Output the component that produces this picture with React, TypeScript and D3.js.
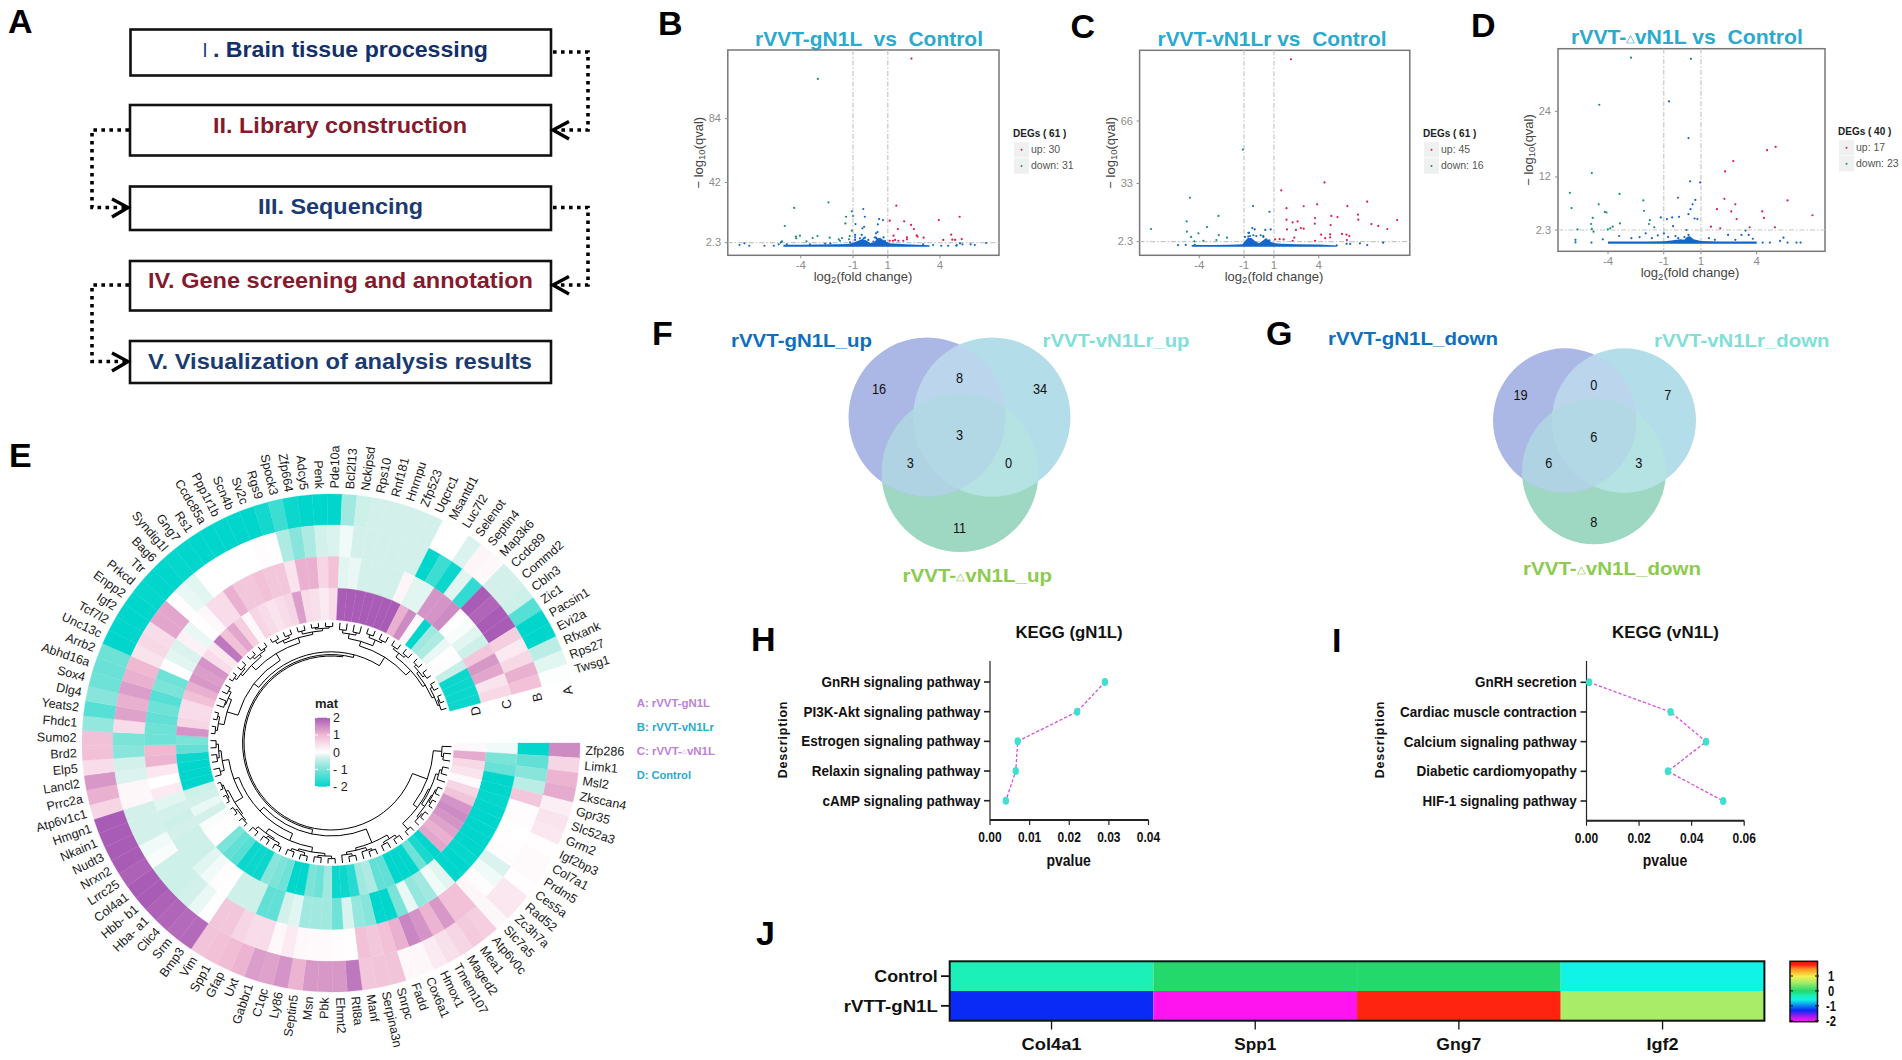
import React from "react";
import * as d3 from "d3";

// ---------- Panel A ----------
const flowLabels = ["Brain tissue processing", "II. Library construction", "III. Sequencing", "IV. Gene screening and annotation", "V. Visualization of analysis results"];

// ---------- Panels B, C, D (log2 fold change, -log10 q) ----------
const bUp: number[][] = [[2.36,123.6],[1.49,26.7],[1.11,16.8],[1.94,16.4],[2.34,14],[1.58,11.3],[2.5,11.3],[2.66,7.1],[2.1,5.8],[2.1,4.5],[3.06,5.6],[3.93,17.2],[5.13,19.4],[4.64,7.6],[4.19,4.1],[4.71,4.3],[4.87,4.1],[5.25,4.7],[1.11,3.6],[1.3,3.6],[1.42,4.1],[1.61,3.6],[1.33,6.9],[1.89,3.6],[2.71,6.3]];
const bDown: number[][] = [[-3.02,110.2],[-2.41,28.9],[-4.38,25.2],[-4.92,13.3],[-4.28,6.3],[-4.05,6.9],[-4.26,5.2],[-3.32,5.4],[-3.04,6.7],[-2.34,5.6],[-1.82,4.5],[-1.63,5.4],[-1.4,19.4],[-1.07,23],[-1,19.9],[-1.44,15],[-1.07,10.2],[-1.19,6.7],[-1.23,4.5],[-1.75,3.6],[-5.08,3.2],[-3.67,3.2]];
const bOther: number[][] = [[-.41,24.5],[-.32,19.4],[-.86,14.6],[.5,17.9],[.72,17.2],[.43,14.4],[-.36,12.8],[-.46,11.8],[.41,9.3],[.32,8.5],[-.88,7.4],[-.5,7.4],[.76,5.8],[-.88,5.8],[-.39,5.2],[.25,5.8],[.36,4.9],[-7.52,.8],[-7.24,1.9],[-6.96,.3],[-6.09,.3],[-5.55,.3],[-5.27,1.2],[-5.15,2.5],[-4.8,1.2],[5.76,1.2],[6,.8],[6.65,2.1],[5.29,1.2],[4.94,.3],[4.47,.3],[4.07,.3],[-.88,4.1],[-.6,5.2],[-.31,5.6],[-.12,4.1],[-.5,3],[-.69,1.9],[.32,5.6],[.45,4.7],[.59,3.4],[.17,3],[.84,3.4],[-1.17,2.6],[3.03,1.2],[3.6,.8],[4.96,.8],[5.15,1.9],[-3.47,1.2],[-2.6,1.6],[-2.3,1.8]];
const bBandX = [-5,-4,-3,-2,-1.3,-1,-.7,-.45,-.2,0,.2,.4,.55,.8,1.1,1.5,2,2.7,3.4];
const bBandTop = [.9,1,1.1,1.2,1.4,2.2,3.6,4.8,3.6,2,2.4,5,5.6,3.6,2,1.6,1.3,1,.6];

const cUp: number[][] = [[2.14,98.6],[4.38,33.6],[1.49,29.4],[7.24,23.4],[5.91,21.1],[3.89,22],[2.99,21],[1.84,20],[6.62,16.6],[6.64,13.9],[4.84,15.9],[5.25,15.3],[3.75,14.8],[1.84,13.9],[2.25,12.5],[2.58,13],[3.73,11.8],[4.79,11.1],[9.24,13.7],[7.52,11.6],[7.98,10.6],[8.58,9],[1.87,8.8],[2.47,8.5],[2.8,9.5],[2.99,9.2],[5.55,6.4],[5.85,6],[6.04,5.3],[4.16,6],[4.76,6.2],[4.76,4.6],[4.43,4.2],[3.75,2.8],[5.88,3.2],[1.08,3.5],[1.38,3.7],[1.65,3.5],[2.25,2.8],[2.36,4.4]];
const cDown: number[][] = [[-1.08,50.9],[-4.62,25.5],[-7.22,9],[-4.84,13],[-2.71,15.9],[-4.82,7.6],[-4.54,4.8],[-4.05,6.7],[-3.48,10],[-2.69,5.8],[-2.85,3.2],[-3.72,2.8],[-2.14,4.4],[-4.32,2.5]];
const cOther: number[][] = [[-.4,21.1],[.7,18.1],[-.45,9.5],[-.29,8.8],[.42,8.5],[.78,8.8],[-.67,7],[-.72,5],[-.18,5.3],[.29,5.3],[-5.42,.5],[6.1,1.1],[6.75,1.4],[7.24,.5],[8.3,1.8],[-.71,7],[-.6,5.3],[-.94,4.8],[-.38,5.7],[.29,4.8],[.11,5.7],[.47,3.6],[.69,3],[5.2,.4],[5.86,1.2],[-4.9,.6],[-4.3,.7]];
const cBandX = [-4.5,-3,-2,-1.5,-1.1,-.95,-.75,-.5,-.25,0,.2,.4,.6,.8,1.1,1.5,2.5,4,5.2];
const cBandTop = [.5,.6,.7,.8,1,2.5,4.2,4.2,2.6,1.5,2.5,3.7,3.5,2.2,1.5,1.2,1,.8,.3];

const dUp: number[][] = [[5.02,17.5],[4.56,16.9],[2.74,14.9],[2.3,13],[2.26,8],[2.85,7],[1.86,6.1],[2.63,5.7],[2.92,4.3],[5.66,7.7],[4.3,5.7],[4.39,4.5],[7,5],[1.54,2.9],[2.04,2.6],[3.62,2.8],[4.98,2.8]];
const dDown: number[][] = [[-2.76,33.8],[-4.47,25.2],[-4.87,12.7],[-6.05,9.1],[-3.38,8.9],[-5.96,6.3],[-4.5,7],[-2.1,7.7],[-2.06,5.8],[-4.17,5.6],[-4.08,5.5],[-4.82,4.5],[-4.91,3.4],[-3.36,3.5],[-1.75,4.1],[-1.8,3.4],[-1.51,2.8],[-5.64,2.4],[-4.87,2.5],[-4.78,2],[-3.88,2.6],[-4.01,2.4],[-3.75,2.9]];
const dOther: number[][] = [[.46,33.6],[-.72,25.8],[.33,19.1],[.42,11.2],[.96,11],[-.24,8.2],[.7,7.8],[.55,7],[.44,6.1],[.33,5.2],[-1.16,4.6],[-.83,4.3],[-.55,4.6],[-.18,4.7],[.66,4.4],[.81,4.3],[-.5,3],[-5.75,.5],[-5.75,.05],[-4.89,0],[-4.28,.6],[-3.4,1.2],[-2.74,.8],[-2.3,1],[-1.97,1.7],[-1.64,.8],[-1.32,1.3],[-.99,1.7],[-.77,1],[-.37,1.2],[-.22,.8],[.22,2.3],[.33,1.4],[.11,1],[.44,.5],[.22,.5],[1.43,.8],[1.75,.5],[2.46,1.4],[2.85,.5],[3.18,1.4],[3.4,2.2],[3.57,1.4],[3.79,.7],[4.32,0],[4.71,0],[5.26,.3],[5.44,.9],[5.66,0],[6.14,0],[6.36,0]];
const dBandX = [-4,-2,-1,-.6,-.3,-.1,.1,.25,.4,.6,1,2,4];
const dBandTop = [.2,.2,.25,.4,.5,.6,.5,1,1.2,.6,.3,.2,.2];

// ---------- Panel E ----------
const genes = ["Zfp286","Limk1","Msl2","Zkscan4","Gpr35","Slc52a3","Grm2","Igf2bp3","Col7a1","Prdm5","Ces5a","Rad52","Zc3h7a","Slc7a5","Atp6v0c","Mea1","Maged2","Tmem107","Hmox1","Cox6a1","Fadd","Snrpc","Serpina3n","Manf","Rtl8a","Ehmt2","Pbk","Msn","Septin5","Ly86","C1qc","Gabbr1","Uxt","Gfap","Spp1","Vim","Bmp3","Srm","Clic4","Hba- a1","Hbb- b1","Col4a1","Lrrc25","Nrxn2","Nudt3","Nkain1","Hmgn1","Atp6v1c1","Prrc2a","Lancl2","Elp5","Brd2","Sumo2","Fhdc1","Yeats2","Dlg4","Sox4","Abhd16a","Arrb2","Unc13c","Tcf7l2","Igf2","Enpp2","Prkcd","Ttr","Bag6","Syndig1l","Gng7","Rs1","Ccdc85a","Ppp1r1b","Scn4b","Sv2c","Rgs9","Spock3","Zfp664","Adcy5","Penk","Pde10a","Bcl2l13","Nckipsd","Rps10","Rnf181","Hnrnpu","Zfp523","Uqcrc1","Msantd1","Luc7l2","Selenot","Septin4","Map3k6","Ccdc89","Commd2","Cbln3","Zic1","Pacsin1","Evi2a","Rfxank","Rps27","Twsg1"];
const ringA = [1.5,.6,1.05,1.15,.25,.4,.35,.03,.08,.08,.03,.35,.35,.12,.7,.75,.6,.45,.3,.12,.1,.85,.85,.8,1.7,1.35,1.35,1.35,1.05,1.4,1.25,1.3,1.05,.95,.9,.85,1.85,1.85,1.9,1.95,2,2,1.95,2,2,2,2,.6,1.1,1.35,.5,.9,.9,-.8,-1.3,-.9,-1.1,-1.15,-1.1,-2,-2,-2,-2,-1.95,-2,-2,-1.95,-2,-2,-2,-2,-2,-2,-1.85,-1.5,-1.9,-2,-2,-2,-.7,-.35,-.3,-.3,-.3,-.3,-.3,0,0,-.25,.15,.1,-.3,-.3,-.35,-1.3,-2,-2,-.5,-.2,-.02];
const ringB = [-2,-1.2,-.9,-.5,.8,.05,.05,0,.03,.05,-.25,-.1,.05,.12,.9,.9,1.35,1.05,1.4,1.55,1.1,.9,.8,.9,.02,.05,.08,.08,.1,.3,.1,.5,.5,.6,.8,.8,.02,-.15,-.3,-.35,-.35,-.35,-.05,-.1,-.3,-.3,-.3,.12,.12,-.25,-.3,-.9,-1,.5,1.25,1.1,1.3,1.1,1,.4,.55,.5,1.2,1.2,.05,-.15,-.2,0,0,0,0,0,.05,.03,-.6,-.9,-.6,-.3,-.25,-.1,-.3,-.3,-.3,-.3,-.3,-.3,-2,-1.5,-1.9,-.2,-1.6,2,1.9,2,2,.7,.3,.55,1.1,.9];
const ringC = [-.1,-1,-1.15,-2,-2,-1.95,-2,-2,-2,-2,-2,-1.95,-2,-2,-.2,-.1,-.7,-.8,-.15,-1,-2,-2,-.9,-.8,-.25,-1.1,-.7,-.7,-.7,-.2,-.3,-1.2,-1.2,-.35,-.35,-.35,.03,.05,-.1,-.2,-.35,-.35,-.35,-.3,-.35,-.3,-.2,.3,0,.35,1.05,1,-1.1,-1.1,-1.2,-1.1,-1.3,-1,-1.1,0,-.2,-.25,.2,-.15,0,.1,.5,.5,1.1,.8,.8,.9,.8,.8,.4,1.1,1.1,.6,.9,-.2,-.15,-.3,-.3,-.3,-.3,.15,-.2,-.2,1.4,1.4,1.5,.03,-.05,-.2,-.35,.8,1.35,1.2,.4,.55];
const ringD = [.1,1.15,.55,.4,.08,.6,.85,1.4,1.5,1.4,1.25,1.1,1.2,-2,-1.8,-1.1,-2,-2,-2,-1.2,-1.2,-.6,-.7,-1.7,-1.9,-1.9,-.7,-1.1,-1,-2,-2,-1.1,-1,-.9,-1.9,-1.9,-1.9,-1.3,-1.2,-1,.03,.03,-.05,-.3,-.15,-.3,-.35,-2,-2,-2,-1.9,-1.2,-1,1.4,.6,.5,.5,.9,1.1,1.35,1.3,1.4,.5,.35,1.7,.9,1.2,.7,.1,.6,.5,.4,.5,.6,1.3,.5,.45,.3,.5,2,2,2,2,2,2,2,1.1,1.5,.1,-2,-.7,-.6,-.15,.03,.05,-.4,-1.9,-1.9,-1.9,-1.9];
const ringNames = ["A","B","C","D"];
const matStops = [-2,-1,-.3,0,1,2];
const matColors = ["#00D6CC","#7BE3D8","#D3F1EA","#FFFFFF","#F0B9D2","#A95CB6"];
const matTicks = [2,1,0,-1,-2];
const matLabels = ["2","1","0","- 1","- 2"];
// leaf-interval merges: first leaf, last leaf, height, optional centre leaf
const dendroSpans: number[][] = [[1,2,.08],[0,2,.12],[3,4,.06],[3,5,.1],[6,7,.04],[8,9,.03],[6,9,.06],[10,11,.03],[10,12,.05],[6,12,.08],[3,12,.16],[13,14,.04],[3,14,.2],[0,14,.35],[15,16,.05],[17,18,.06],[15,18,.1],[19,20,.05],[19,21,.08],[22,23,.05],[22,24,.09],[19,24,.14],[15,24,.2],[25,26,.04],[27,28,.05],[25,28,.08],[29,30,.04],[31,32,.05],[29,32,.09],[25,32,.13],[33,34,.04],[35,36,.05],[33,36,.09],[37,38,.05],[33,38,.12],[25,38,.25],[39,40,.03],[41,42,.02],[39,42,.05],[43,44,.02],[45,46,.02],[43,46,.04],[39,46,.08],[47,48,.06],[49,50,.05],[51,52,.05],[49,52,.09],[47,52,.14],[39,52,.32],[25,52,.5],[15,52,.72],[53,54,.03],[55,56,.03],[53,56,.06],[57,58,.08],[59,60,.05],[57,60,.1],[53,60,.18],[61,62,.03],[63,64,.04],[61,64,.07],[65,66,.03],[67,68,.04],[65,68,.07],[61,68,.12],[69,70,.03],[71,72,.04],[69,72,.08],[73,74,.04],[75,76,.03],[77,78,.03],[75,78,.05],[73,78,.09],[69,78,.14],[61,78,.28],[53,78,.55],[79,80,.07],[81,82,.08],[79,82,.13],[83,84,.05],[85,86,.06],[83,86,.1],[79,86,.25],[87,88,.05],[89,90,.05],[87,90,.09],[91,92,.04],[93,94,.04],[91,94,.08],[95,96,.04],[97,98,.03],[97,99,.05],[95,99,.08],[91,99,.13],[87,99,.2],[79,99,.4],[53,99,.8,82],[15,99,.93,80],[0,99,1]];

// ---------- Panels F, G ----------
const vennUp = [16,8,34,3,3,0,11];
const vennDown = [19,0,7,6,6,3,8];

// ---------- Panels H, I ----------
const keggGPaths = ["GnRH signaling pathway","PI3K-Akt signaling pathway","Estrogen signaling pathway","Relaxin signaling pathway","cAMP signaling pathway"];
const keggGP = [.029,.022,.007,.0065,.004];
const keggGTicks = [0,.01,.02,.03,.04];
const keggVPaths = ["GnRH secretion","Cardiac muscle contraction","Calcium signaling pathway","Diabetic cardiomyopathy","HIF-1 signaling pathway"];
const keggVP = [.001,.032,.0455,.031,.052];
const keggVTicks = [0,.02,.04,.06];

// ---------- Panel J ----------
const jGenes = ["Col4a1","Spp1","Gng7","Igf2"];
const jGeneWidths = [60,42,45,32];
const jRows = ["Control","rVTT-gN1L"];
const jControl = [-.3,.05,.05,-.55];
const jRvtt = [-1.25,-1.9,1.75,.6];
const jStops = [-2,-1.9,-1.25,-.55,-.3,.05,.6,1,1.5,1.75,2];
const jColors = ["#C020F0","#FF14F0","#0A2AF5","#10F4E8","#1AF0B8","#24D96C","#A8EC68","#F5F050","#FF9020","#FF2410","#E02000"];

const SANS = "'Liberation Sans', Arial, sans-serif";
const TITLE_BLUE = "#2BA9CE";
const NAVY = "#1A3A72";
const WINE = "#851A2E";

const Fit = ({ x0, x1, y, size, fill, weight = "bold", children }: any) => (
  <text x={x0} y={y} textLength={x1 - x0} lengthAdjust="spacingAndGlyphs" fontSize={size} fontWeight={weight} fill={fill} fontFamily={SANS} style={{ whiteSpace: "pre" }}>{children}</text>
);
const Letter = ({ x, y, t }: any) => <text x={x} y={y} fontSize={34} fontWeight="bold" fontFamily={SANS} fill="#000">{t}</text>;
const Tri = ({ fill }: any) => <tspan fontSize="0.55em" fontWeight="normal" fill={fill} dy="-2">△</tspan>;

function PanelA() {
  const boxes = [[130.5, 29.5, 551, 75.5], [130, 105, 551, 155.5], [130, 186.5, 551, 230], [130, 261, 551, 310.5], [130, 341, 551, 383]];
  const dots = { fill: "none", stroke: "#000", strokeWidth: 3.6, strokeDasharray: "3.6 4.4" };
  const chev = { fill: "none", stroke: "#000", strokeWidth: 3.4 };
  return (
    <g>
      {boxes.map((b, i) => <rect key={i} x={b[0]} y={b[1]} width={b[2] - b[0]} height={b[3] - b[1]} fill="#fff" stroke="#111" strokeWidth={2.6} />)}
      <text x={196} y={57} fontSize={18} fontFamily="'Noto Sans CJK SC', 'Liberation Serif', serif" fill={NAVY}>Ⅰ</text>
      <Fit x0={213} x1={488} y={57} size={22} fill="#12306B">{". " + flowLabels[0]}</Fit>
      <Fit x0={213} x1={467} y={132.5} size={22} fill={WINE}>{flowLabels[1]}</Fit>
      <Fit x0={258} x1={423} y={213.5} size={22} fill={NAVY}>{flowLabels[2]}</Fit>
      <Fit x0={148} x1={533} y={288} size={22} fill={WINE}>{flowLabels[3]}</Fit>
      <Fit x0={148} x1={532} y={368.5} size={22} fill={NAVY}>{flowLabels[4]}</Fit>
      <path d="M553 52H588V130H556" {...dots} />
      <path d="M569 121.5L553 130L569 139" {...chev} />
      <path d="M129 130H92V207.5H126" {...dots} />
      <path d="M112 199L128 207.5L112 217" {...chev} />
      <path d="M553 207.5H588V285H556" {...dots} />
      <path d="M569 276.5L553 285L569 294" {...chev} />
      <path d="M129 285H92V361.5H126" {...dots} />
      <path d="M112 353L128 361.5L112 371" {...chev} />
    </g>
  );
}

function Volcano({ frame, xz, yAnchors, yTicks, up, down, other, bandX, bandTop, bandLow, title, titleX, titleY, triangle, legend, total, nUp, nDown, xTitleX, yTitleX, tickY, xTitleY, yTickX, legY }: any) {
  const [l, t, r, b] = frame;
  const x = d3.scaleLinear().domain([-4, 4]).range(xz);
  const y = d3.scaleLinear().domain([yAnchors[0][0], yAnchors[1][0]]).range([yAnchors[0][1], yAnchors[1][1]]);
  const area = d3.area<number>().x((_, i) => x(bandX[i])).y0(y(bandLow)).y1((v) => y(v));
  const thresh = { stroke: "#c6c6c6", strokeWidth: 1.2, strokeDasharray: "5 2 1.5 2" };
  const grey = "#8c8c8c";
  const dot = (pts: number[][], c: string) => pts.map((p, i) => <circle key={c + i} cx={x(p[0])} cy={y(p[1])} r={1.1} fill={c} />);
  const [lx, ly] = legend;
  return (
    <g fontFamily={SANS}>
      <Fit x0={titleX[0]} x1={titleX[1]} y={titleY} size={20.5} fill={TITLE_BLUE}>
        {triangle ? <>rVVT-<Tri fill={TITLE_BLUE} /><tspan dy="2">vN1L vs  Control</tspan></> : title}
      </Fit>
      <rect x={l} y={t} width={r - l} height={b - t} fill="#fff" stroke="#777" strokeWidth={1.5} />
      {[-1, 1].map((v) => <line key={v} x1={x(v)} x2={x(v)} y1={t} y2={b} {...thresh} />)}
      <line x1={l} x2={r} y1={y(2.3)} y2={y(2.3)} {...thresh} />
      <path d={area(bandTop) as string} fill="#1566C9" />
      {dot(other, "#1566C9")}
      {dot(down, "#17906C")}
      {dot(up, "#E4184E")}
      {[-4, -1, 1, 4].map((v) => (
        <g key={v}>
          <line x1={x(v)} x2={x(v)} y1={b} y2={b + 3} stroke={grey} />
          <text x={x(v)} y={tickY} textAnchor="middle" fontSize={11.5} fill={grey}>{v}</text>
        </g>
      ))}
      {yTicks.map((v: number) => (
        <g key={v}>
          <line x1={l - 3} x2={l} y1={y(v)} y2={y(v)} stroke={grey} />
          <text x={yTickX} y={y(v) + 3.5} textAnchor="end" fontSize={11} fill={grey}>{v}</text>
        </g>
      ))}
      <text x={xTitleX} y={xTitleY} textAnchor="middle" fontSize={13} fill="#444">log<tspan fontSize={9.5} dy={2.5}>2</tspan><tspan dy={-2.5}>(fold change)</tspan></text>
      <text transform={`translate(${yTitleX},${(t + b) / 2}) rotate(-90)`} textAnchor="middle" fontSize={13} fill="#444">− log<tspan fontSize={9.5} dy={2}>10</tspan><tspan dy={-2}>(qval)</tspan></text>
      <text x={lx} y={ly} fontSize={10} fontWeight="bold" fill="#222">{`DEGs ( ${total} )`}</text>
      <rect x={lx + 1} y={legY[0]} width={15} height={15.5} fill="#EFF1F1" />
      <rect x={lx + 1} y={legY[1]} width={15} height={15.5} fill="#EFF1F1" />
      <circle cx={lx + 8.5} cy={legY[0] + 7.7} r={1} fill="#E4184E" />
      <circle cx={lx + 8.5} cy={legY[1] + 7.7} r={1} fill="#17906C" />
      <text x={lx + 18} y={legY[0] + 11} fontSize={10.5} fill="#555">{`up: ${nUp}`}</text>
      <text x={lx + 18} y={legY[1] + 11} fontSize={10.5} fill="#555">{`down: ${nDown}`}</text>
    </g>
  );
}

const GENE_STEP = 3.45;
const CX = 331, CY = 743;
const bearing = (i: number) => 90 + (i + 0.5) * GENE_STEP;
const ringR = [[218, 249], [186.5, 218], [155, 186.5], [123, 155]];

function PanelE() {
  const color = d3.scaleLinear<string>().domain(matStops).range(matColors);
  const arc = d3.arc<any>();
  const rings = [ringA, ringB, ringC, ringD];
  const rOf = d3.scalePow().exponent(0.6).domain([0, 1]).range([120.5, 87]);
  const rad = (deg: number) => (deg * Math.PI) / 180;
  const pol = (deg: number, r: number) => [CX + r * Math.sin(rad(deg)), CY - r * Math.cos(rad(deg))];

  const done: { s: number; e: number; c: number; r: number }[] = [];
  const sorted = [...dendroSpans].sort((a, b) => a[1] - a[0] - (b[1] - b[0]));
  const path = d3.path();
  sorted.forEach((sp) => {
    const [s, e, h, ov] = sp;
    const kids: { c: number; r: number }[] = [];
    let i = s;
    while (i <= e) {
      const candidates = done.filter((d) => d.s === i && d.e <= e);
      const k = candidates.length ? candidates.reduce((a, b) => (a.e > b.e ? a : b)) : null;
      if (k && !(k.s === s && k.e === e)) { kids.push({ c: k.c, r: k.r }); i = k.e + 1; }
      else { kids.push({ c: i, r: rOf(0) }); i += 1; }
    }
    const r = rOf(h);
    const cs = kids.map((k) => k.c);
    const a0 = Math.min(...cs), a1 = Math.max(...cs);
    const toA = (idx: number) => rad(bearing(idx) - 90);
    const st = [CX + r * Math.cos(toA(a0)), CY + r * Math.sin(toA(a0))];
    path.moveTo(st[0], st[1]);
    path.arc(CX, CY, r, toA(a0), toA(a1), false);
    kids.forEach((k) => {
      const p0 = pol(bearing(k.c), r), p1 = pol(bearing(k.c), k.r);
      path.moveTo(p0[0], p0[1]);
      path.lineTo(p1[0], p1[1]);
    });
    done.push({ s, e, c: ov !== undefined ? ov : (a0 + a1) / 2, r });
  });

  const matY = d3.scaleLinear().domain([2, -2]).range([717.7, 786.7]);
  return (
    <g fontFamily={SANS}>
      {rings.map((ring, k) => ring.map((v, i) => (
        <path key={k + "-" + i} transform={`translate(${CX},${CY})`} fill={color(v)} stroke={color(v)} strokeWidth={0.3}
          d={arc({ innerRadius: ringR[k][0], outerRadius: ringR[k][1], startAngle: rad(90 + i * GENE_STEP), endAngle: rad(90 + (i + 1) * GENE_STEP) }) as string} />
      )))}
      <path d={path.toString()} fill="none" stroke="#000" strokeWidth={1} />
      {genes.map((g, i) => {
        const b = bearing(i);
        const right = b < 180 || b >= 360;
        const [px, py] = pol(b, 254.5);
        return (
          <text key={g} transform={`translate(${px},${py}) rotate(${right ? b - 90 : b - 270})`} textAnchor={right ? "start" : "end"} dominantBaseline="central" fontSize={12.5} fill="#1a1a1a">{g}</text>
        );
      })}
      {ringNames.map((n, k) => {
        const [px, py] = pol(77.5, (ringR[k][0] + ringR[k][1]) / 2 + 9);
        return <text key={n} transform={`translate(${px},${py}) rotate(-103)`} textAnchor="middle" dominantBaseline="central" fontSize={13} fill="#1a1a1a">{n}</text>;
      })}
      <defs>
        <linearGradient id="matGrad" x1="0" x2="0" y1="0" y2="1">
          {matStops.slice().reverse().map((v) => <stop key={v} offset={(2 - v) / 4} stopColor={color(v)} />)}
        </linearGradient>
      </defs>
      <text x={315} y={708} fontSize={13} fontWeight="bold" fill="#222">mat</text>
      <rect x={315} y={matY(2)} width={15} height={matY(-2) - matY(2)} fill="url(#matGrad)" />
      {matTicks.map((v, i) => (
        <g key={v}>
          <line x1={315} x2={318} y1={matY(v)} y2={matY(v)} stroke="#fff" />
          <line x1={327} x2={330} y1={matY(v)} y2={matY(v)} stroke="#fff" />
          <text x={333} y={matY(v) + 4.5} fontSize={12.5} fill="#222">{matLabels[i]}</text>
        </g>
      ))}
      <Fit x0={636.7} x1={710} y={706.5} size={11.5} fill="#BB82D9">A: rVVT-gN1L</Fit>
      <Fit x0={636.7} x1={714} y={730.5} size={11.5} fill={TITLE_BLUE}>B: rVVT-vN1Lr</Fit>
      <Fit x0={636.7} x1={715} y={755} size={11.5} fill="#BB82D9">C: rVVT-<Tri fill="#BB82D9" /><tspan dy="2">vN1L</tspan></Fit>
      <Fit x0={636.7} x1={691} y={779} size={11.5} fill={TITLE_BLUE}>D: Control</Fit>
    </g>
  );
}

function Venn({ id, c1, c2, c3, values, spots }: any) {
  const el = (c: number[], fill: string, clip?: string) => <ellipse cx={c[0]} cy={c[1]} rx={c[2]} ry={c[3]} fill={fill} clipPath={clip} />;
  return (
    <g fontFamily={SANS}>
      <defs>
        <clipPath id={id + "a"}><ellipse cx={c1[0]} cy={c1[1]} rx={c1[2]} ry={c1[3]} /></clipPath>
        <clipPath id={id + "b"}><ellipse cx={c2[0]} cy={c2[1]} rx={c2[2]} ry={c2[3]} /></clipPath>
      </defs>
      {el(c3, "#9FD8C2")}
      {el(c1, "#ABB7E5")}
      {el(c2, "#B3DDE8")}
      {el(c2, "#BAD5EC", `url(#${id}a)`)}
      {el(c3, "#AFD3E3", `url(#${id}a)`)}
      {el(c3, "#B5E2E2", `url(#${id}b)`)}
      <g clipPath={`url(#${id}a)`}>{el(c3, "#B2D8E5", `url(#${id}b)`)}</g>
      {values.map((v: number, i: number) => (
        <text key={i} transform={`translate(${spots[i][0]},${spots[i][1] + 5.5}) scale(0.85,1)`} textAnchor="middle" fontSize={15} fill="#111">{v}</text>
      ))}
    </g>
  );
}

function Kegg({ x0, xEnd, axisY, top, paths, values, ticks, catY, labelX, title, titleX, pX, descX, tickY }: any) {
  const x = d3.scaleLinear().domain([ticks[0], ticks[ticks.length - 1]]).range([x0, xEnd]);
  const y = d3.scaleLinear().domain([0, paths.length - 1]).range(catY);
  const line = d3.line<number>().x((v) => x(v)).y((_, i) => y(i));
  return (
    <g fontFamily={SANS} fontWeight="bold" fill="#111">
      <Fit x0={titleX[0]} x1={titleX[1]} y={637.5} size={16} fill="#111">{title}</Fit>
      <line x1={x0} x2={x0} y1={top} y2={axisY} stroke="#222" strokeWidth={1.2} />
      <line x1={x0} x2={xEnd} y1={axisY} y2={axisY} stroke="#222" strokeWidth={2} />
      {ticks.map((t: number) => (
        <g key={t}>
          <line x1={x(t)} x2={x(t)} y1={axisY} y2={axisY + 5} stroke="#222" strokeWidth={1.2} />
          <text transform={`translate(${x(t)},${tickY}) scale(0.8,1)`} textAnchor="middle" fontSize={15}>{t.toFixed(2)}</text>
        </g>
      ))}
      {paths.map((p: string, i: number) => (
        <g key={p}>
          <line x1={x0 - 6} x2={x0} y1={y(i)} y2={y(i)} stroke="#222" strokeWidth={1.6} />
          <text transform={`translate(${labelX},${y(i) + 5}) scale(0.9,1)`} textAnchor="end" fontSize={15}>{p}</text>
        </g>
      ))}
      <path d={line(values) as string} fill="none" stroke="#D94FD9" strokeWidth={1.3} strokeDasharray="3.2 2" />
      {values.map((v: number, i: number) => <ellipse key={i} cx={x(v)} cy={y(i)} rx={3.2} ry={4} fill="#3FE0CF" />)}
      <text transform={`translate(${pX},865.5) scale(0.85,1)`} textAnchor="middle" fontSize={16.5}>pvalue</text>
      <text transform={`translate(${descX},739.5) rotate(-90)`} textAnchor="middle" fontSize={12.5} letterSpacing={0.8}>Description</text>
    </g>
  );
}

function PanelJ() {
  const color = d3.scaleLinear<string>().domain(jStops).range(jColors);
  const x = d3.scaleBand<number>().domain([0, 1, 2, 3]).range([949.7, 1764.4]);
  const y = d3.scaleBand<number>().domain([0, 1]).range([961.3, 1020.7]);
  const rows = [jControl, jRvtt];
  const barY = d3.scaleLinear().domain([-2, 1]).range([1020.7, 976]);
  const rowW = [63.5, 94];
  return (
    <g fontFamily={SANS} fontWeight="bold" fill="#111">
      <defs>
        <linearGradient id="jGrad" x1="0" x2="0" y1="1" y2="0">
          {jStops.map((v, i) => <stop key={i} offset={(v + 2) / 4} stopColor={jColors[i]} />)}
        </linearGradient>
      </defs>
      {rows.map((row, r) => row.map((v, c) => <rect key={r + "" + c} x={x(c)} y={y(r)} width={x.bandwidth()} height={y.bandwidth()} fill={color(v)} />))}
      <rect x={949.7} y={961.3} width={814.7} height={59.4} fill="none" stroke="#111" strokeWidth={2} />
      {jRows.map((n, r) => (
        <g key={n}>
          <line x1={941} x2={949.7} y1={y(r)! + y.bandwidth() / 2} y2={y(r)! + y.bandwidth() / 2} stroke="#111" strokeWidth={1.8} />
          <Fit x0={937.8 - rowW[r]} x1={937.8} y={y(r)! + y.bandwidth() / 2 + 6} size={17} fill="#111">{n}</Fit>
        </g>
      ))}
      {jGenes.map((g, c) => {
        const cx = x(c)! + x.bandwidth() / 2;
        return (
          <g key={g}>
            <line x1={cx} x2={cx} y1={1020.7} y2={1029.5} stroke="#111" strokeWidth={1.3} />
            <Fit x0={cx - jGeneWidths[c] / 2} x1={cx + jGeneWidths[c] / 2} y={1049.5} size={17} fill="#111">{g}</Fit>
          </g>
        );
      })}
      <rect x={1790} y={961.3} width={27.5} height={60.4} fill="url(#jGrad)" stroke="#111" strokeWidth={1.5} />
      {[1, 0, -1, -2].map((v) => (
        <g key={v}>
          <line x1={1815} x2={1819} y1={barY(v)} y2={barY(v)} stroke="#111" />
          <line x1={1790} x2={1793} y1={barY(v)} y2={barY(v)} stroke="#111" />
          <text transform={`translate(1831,${barY(v) + 5}) scale(0.8,1)`} textAnchor="middle" fontSize={14}>{v}</text>
        </g>
      ))}
    </g>
  );
}

export default function App() {
  document.body.style.margin = "0";
  return (
    <svg width={1902} height={1060} viewBox="0 0 1902 1060" style={{ position: "absolute", left: 0, top: 0, background: "#fff", display: "block" }}>
      <Letter x={8} y={33} t="A" /><Letter x={658} y={35} t="B" /><Letter x={1070.5} y={38} t="C" /><Letter x={1471} y={37} t="D" />
      <Letter x={9} y={466.5} t="E" /><Letter x={652} y={345} t="F" /><Letter x={1266} y={345} t="G" />
      <Letter x={751} y={650.5} t="H" /><Letter x={1332} y={652} t="I" /><Letter x={756} y={945} t="J" />
      <PanelA />
      <Volcano frame={[727.8, 50, 999, 255.3]} xz={[800.8, 940]} yAnchors={[[2.3, 242.7], [84, 118.7]]} yTicks={[2.3, 42, 84]} up={bUp} down={bDown} other={bOther} bandX={bBandX} bandTop={bBandTop} bandLow={-.3}
        title="rVVT-gN1L  vs  Control" titleX={[755, 983]} titleY={46} legend={[1013, 137.3]} total={61} nUp={30} nDown={31} xTitleX={863} yTitleX={703} tickY={269} xTitleY={280.5} yTickX={721} legY={[142, 158.3]} />
      <Volcano frame={[1139.6, 50.3, 1409.8, 255.3]} xz={[1199.2, 1318.8]} yAnchors={[[2.3, 241.7], [66, 121]]} yTicks={[2.3, 33, 66]} up={cUp} down={cDown} other={cOther} bandX={cBandX} bandTop={cBandTop} bandLow={-.35}
        title="rVVT-vN1Lr vs  Control" titleX={[1157.5, 1386.5]} titleY={46} legend={[1423, 137.3]} total={61} nUp={45} nDown={16} xTitleX={1274} yTitleX={1115} tickY={269} xTitleY={280.5} yTickX={1133} legY={[142, 158.3]} />
      <Volcano frame={[1558, 48.7, 1825, 251.3]} xz={[1608, 1756.7]} yAnchors={[[2.3, 230], [24, 111.3]]} yTicks={[2.3, 12, 24]} up={dUp} down={dDown} other={dOther} bandX={dBandX} bandTop={dBandTop} bandLow={-.2}
        triangle titleX={[1571, 1803]} titleY={44} legend={[1838, 135]} total={40} nUp={17} nDown={23} xTitleX={1690} yTitleX={1533} tickY={265} xTitleY={277} yTickX={1551} legY={[140, 156]} />
      <PanelE />
      <Venn id="vf" c1={[927, 417, 78.5, 79.5]} c2={[992, 417, 78.5, 79.5]} c3={[960, 472.7, 78.5, 79.3]} values={vennUp}
        spots={[[879, 388], [959.5, 377.7], [1040, 388], [959.5, 434.3], [910.4, 462.7], [1008.6, 462.7], [959.5, 527.3]]} />
      <Fit x0={731} x1={872} y={346.5} size={18} fill="#0F6FBF">rVVT-gN1L_up</Fit>
      <Fit x0={1042.5} x1={1189.5} y={346.5} size={18} fill="#7FE0D8">rVVT-vN1Lr_up</Fit>
      <Fit x0={902.5} x1={1052} y={581.5} size={18} fill="#8CCB4F">rVVT-<Tri fill="#8CCB4F" /><tspan dy="2">vN1L_up</tspan></Fit>
      <Venn id="vg" c1={[1564.8, 420.5, 71.8, 72.2]} c2={[1624, 420.5, 72, 72.2]} c3={[1594, 471.5, 72, 72.8]} values={vennDown}
        spots={[[1520.5, 394.3], [1593.8, 384.7], [1667.8, 394.3], [1593.8, 436.3], [1548.7, 462.3], [1638.9, 462.3], [1593.8, 521.7]]} />
      <Fit x0={1328} x1={1498} y={345} size={18} fill="#0F6FBF">rVVT-gN1L_down</Fit>
      <Fit x0={1654} x1={1829.5} y={346.5} size={18} fill="#7FE0D8">rVVT-vN1Lr_down</Fit>
      <Fit x0={1523} x1={1701} y={575} size={18} fill="#8CCB4F">rVVT-<Tri fill="#8CCB4F" /><tspan dy="2">vN1L_down</tspan></Fit>
      <Kegg x0={990} xEnd={1148.5} axisY={820} top={661} paths={keggGPaths} values={keggGP} ticks={keggGTicks} catY={[682, 800.7]} labelX={980.4} title="KEGG (gN1L)" titleX={[1015.5, 1122.5]} pX={1068.6} descX={787} tickY={841.7} />
      <Kegg x0={1586.5} xEnd={1744.2} axisY={820.7} top={661} paths={keggVPaths} values={keggVP} ticks={keggVTicks} catY={[682.3, 801]} labelX={1576.8} title="KEGG (vN1L)" titleX={[1612, 1719]} pX={1665} descX={1384} tickY={842.5} />
      <PanelJ />
    </svg>
  );
}
